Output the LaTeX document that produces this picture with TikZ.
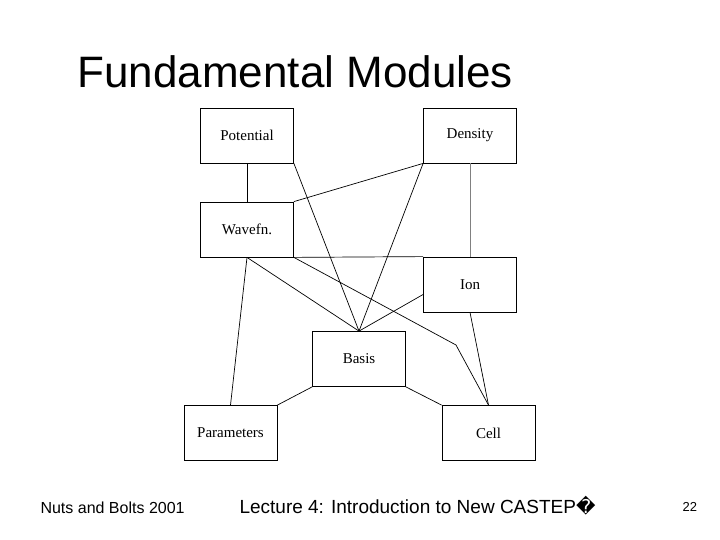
\documentclass[tikz,border=0pt]{standalone}
\usepackage{fontspec}
\setmainfont{Liberation Serif}
\newfontfamily\arialf{Liberation Sans}
\newfontfamily\djv{DejaVu Sans}
\begin{document}
\begin{tikzpicture}[x=1pt,y=-1pt,
  box/.style={draw,line width=0.8pt,minimum width=93pt,minimum height=55pt,inner sep=0pt,font=\fontsize{15}{17}\selectfont},
  ln/.style={line width=0.7pt}]
\useasboundingbox (0,0) rectangle (720,540);
\node[anchor=base west,font=\arialf\fontsize{44}{50}\selectfont] (title) at (74,88) {Fundamental Modules};
\node[box] (pot) at (247,135.5) {Potential};
\node[box] (den) at (470,135.5) {Density};
\node[box] (wav) at (247,229.5) {Wavefn.};
\node[box] (ion) at (470,284.5) {Ion};
\node[box] (bas) at (359,359) {Basis};
\node[box] (par) at (230.5,433) {Parameters};
\node[box] (cel) at (488.5,433) {Cell};
\coordinate (k) at (456,345);
\draw[ln] (pot.south) -- (wav.north);
\draw[ln,gray] (den.south) -- (ion.north);
\draw[ln] (wav.north east) -- (den.south west);
\draw[ln] (wav.south east) -- (ion.north west);
\draw[ln] (pot.south east) -- (bas.north);
\draw[ln] (den.south west) -- (bas.north);
\draw[ln] (wav.south) -- (bas.north);
\draw[ln] (ion.west) ++(0,10) coordinate (iw) (iw) -- (bas.north);
\draw[ln] (wav.south) -- (par.north);
\draw[ln] (wav.south east) -- (k) -- (cel.north);
\draw[ln] (ion.south) -- (cel.north);
\draw[ln] (bas.south west) -- (par.north east);
\draw[ln] (bas.south east) -- (cel.north west);
\node[anchor=base west,font=\arialf\fontsize{16}{18}\selectfont] (f1) at (37,513) {Nuts and Bolts 2001};
\node[anchor=base west,font=\arialf\fontsize{19}{21}\selectfont] (f2) at (236,513) {Lecture 4: Introduction to New CASTEP{\djv �}};
\node[anchor=base west,font=\arialf\fontsize{13}{15}\selectfont] (f3) at (679,511) {22};
\end{tikzpicture}
\end{document}
